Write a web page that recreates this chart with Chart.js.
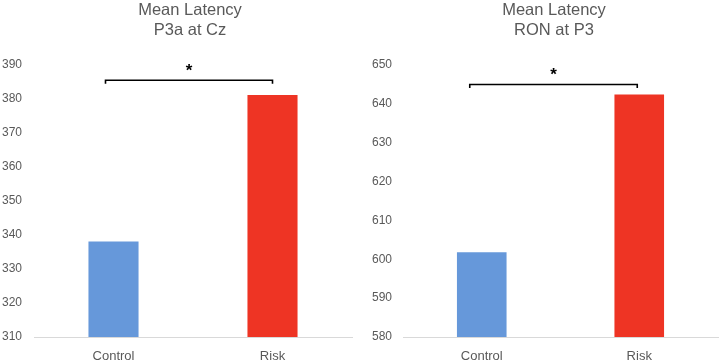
<!DOCTYPE html>
<html><head><meta charset="utf-8">
<script src="https://cdn.jsdelivr.net/npm/chart.js@4.4.1/dist/chart.umd.min.js"></script>
<style>
html,body{margin:0;padding:0;background:#fff;}
#wrap{position:relative;width:720px;height:361px;overflow:hidden;}
.box{position:absolute;top:0;width:360px;height:361px;}
</style></head><body>
<div id="wrap">
  <div class="box" style="left:0"><canvas id="c1"></canvas></div>
  <div class="box" style="left:360px"><canvas id="c2"></canvas></div>
</div>
<script>
// ---- data ----
const categories = ['Control', 'Risk'];
const p3aLatency = [338.1, 381.2];
const ronLatency = [601.8, 642.4];
const p3aAxis = [310, 390, 10];   // min, max, step
const ronAxis = [580, 650, 10];
const p3aTitle = ['Mean Latency', 'P3a at Cz'];
const ronTitle = ['Mean Latency', 'RON at P3'];
const p3aBracket = [385.5];        // bracket level (data units)
const ronBracket = [645.0];
const sigLabel = '*';
const barColors = ['#6698DA', '#EE3424'];

const FONT = "'Liberation Sans', Arial, sans-serif";
const GREY = '#595959';

const titlePlugin = {
  id: 'twoLineTitle',
  afterDraw(chart, args, opts) {
    const ctx = chart.ctx;
    ctx.save();
    ctx.fillStyle = GREY;
    ctx.font = '16.5px ' + FONT;
    ctx.textAlign = 'center';
    ctx.textBaseline = 'alphabetic';
    opts.lines.forEach((t, i) => ctx.fillText(t, opts.cx, 15 + i * 19.5));
    ctx.restore();
  }
};

const sigPlugin = {
  id: 'sig',
  afterDatasetsDraw(chart, args, opts) {
    const ctx = chart.ctx, x = chart.scales.x, y = chart.scales.y;
    const x0 = x.getPixelForValue(0) + opts.dx0;
    const x1 = x.getPixelForValue(1) + opts.dx1;
    const yy = y.getPixelForValue(opts.level);
    ctx.save();
    ctx.strokeStyle = '#000';
    ctx.lineWidth = 1.6;
    ctx.beginPath();
    ctx.moveTo(x0, yy + 3.5);
    ctx.lineTo(x0, yy);
    ctx.lineTo(x1, yy);
    ctx.lineTo(x1, yy + 3.5);
    ctx.stroke();
    ctx.fillStyle = '#000';
    ctx.font = 'bold 17px ' + FONT;
    ctx.textAlign = 'center';
    ctx.textBaseline = 'alphabetic';
    ctx.fillText(opts.label, (x0 + x1) / 2, yy - 4.5);
    ctx.restore();
  }
};

function makeChart(id, values, axis, title, bracket, yWidth, padRight, tickPad, titleX, dx0, dx1) {
  return new Chart(document.getElementById(id), {
    type: 'bar',
    data: {
      labels: categories,
      datasets: [{ data: values, backgroundColor: barColors, borderWidth: 0,
                   barPercentage: 0.315, categoryPercentage: 1 }]
    },
    options: {
      responsive: true, maintainAspectRatio: false, animation: false,
      devicePixelRatio: 1,
      layout: { padding: { top: 65, right: padRight, left: 0, bottom: 0 } },
      plugins: {
        legend: { display: false }, tooltip: { enabled: false }, title: { display: false },
        twoLineTitle: { lines: title, cx: titleX },
        sig: { level: bracket[0], label: sigLabel, dx0: dx0, dx1: dx1 }
      },
      scales: {
        x: {
          grid: { display: false, drawTicks: false },
          border: { display: true, color: '#D9D9D9', width: 1 },
          ticks: { color: GREY, font: { family: FONT, size: 13 }, padding: 12 },
          afterFit(s) { s.height = 24; }
        },
        y: {
          min: axis[0], max: axis[1],
          grid: { display: false, drawTicks: false },
          border: { display: false },
          ticks: { stepSize: axis[2], color: GREY, font: { family: FONT, size: 12 }, padding: tickPad },
          afterFit(s) { s.width = yWidth; }
        }
      }
    },
    plugins: [titlePlugin, sigPlugin]
  });
}

makeChart('c1', p3aLatency, p3aAxis, p3aTitle, p3aBracket, 34, 8, 12, 190, -8, 0);
makeChart('c2', ronLatency, ronAxis, ronTitle, ronBracket, 43, 2, 11, 194, -12, -2);
</script>
</body></html>
